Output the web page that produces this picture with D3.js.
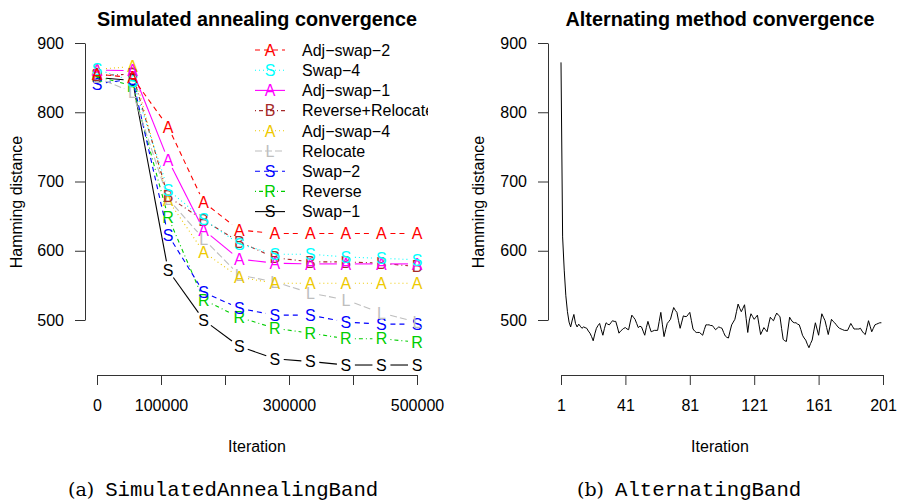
<!DOCTYPE html>
<html>
<head>
<meta charset="utf-8">
<script src="https://cdn.jsdelivr.net/npm/d3@7"></script>
<style>
body { margin: 0; background: #fff; }
svg text { font-family: "Liberation Sans", Arial, Helvetica, sans-serif; }
</style>
</head>
<body>
<script>
// ---- data ----
const iterations = [0, 55556, 111111, 166667, 222222, 277778, 333333, 388889, 444444, 500000];
const methods = ["Adj\u2212swap\u22122", "Swap\u22124", "Adj\u2212swap\u22121", "Reverse+Relocate", "Adj\u2212swap\u22124",
                 "Relocate", "Swap\u22122", "Reverse", "Swap\u22121"];
const symbols = ["A", "S", "A", "B", "A", "L", "S", "R", "S"];
const adjSwap2   = [855, 850, 779, 670, 630, 625, 625, 625, 625, 625];
const swap4      = [862, 845, 688, 645, 610, 595, 595, 591, 589, 587];
const adjSwap1   = [861, 860, 731, 630, 588, 582, 581, 581, 581, 581];
const revReloc   = [853, 855, 678, 644, 613, 590, 584, 584, 582, 577];
const adjSwap4   = [862, 866, 673, 598, 562, 553, 553, 553, 553, 553];
const relocate   = [850, 829, 675, 617, 565, 555, 539, 529, 510, 497];
const swap2      = [841, 848, 623, 540, 517, 507, 507, 497, 494, 494];
const reverse    = [852, 838, 649, 529, 504, 488, 481, 473, 473, 468];
const swap1      = [850, 846, 572, 500, 462, 444, 440, 435, 435, 435];
const saSeries = [adjSwap2, swap4, adjSwap1, revReloc, adjSwap4, relocate, swap2, reverse, swap1];

const distTicks = [500, 600, 700, 800, 900];
const iterTicks = [0, 100000, 200000, 300000, 400000, 500000];
const iterLabels = [0, 100000, 300000, 500000];   // R drops the overlapping ones
const altTicks = [1, 41, 81, 121, 161, 201];

const altDistance = [
  872, 620, 572, 535, 512, 497, 490, 500, 508, 495,
  490, 494, 491, 488, 490, 489, 488, 484, 481, 476,
  470, 480, 488, 492, 495, 486, 478, 488, 496, 494,
  493, 496, 499, 498, 498, 490, 481, 484, 486, 488,
  489, 487, 486, 497, 507, 504, 501, 495, 489, 491,
  490, 484, 478, 489, 498, 490, 483, 484, 485, 485,
  485, 498, 511, 493, 476, 486, 495, 498, 501, 510,
  518, 514, 511, 499, 488, 497, 506, 505, 505, 508,
  511, 499, 487, 484, 482, 482, 482, 480, 478, 486,
  493, 493, 493, 492, 492, 489, 486, 488, 490, 489,
  488, 482, 477, 475, 474, 484, 493, 497, 501, 512,
  523, 517, 512, 517, 522, 502, 482, 500, 509, 505,
  501, 504, 507, 493, 479, 484, 489, 486, 483, 494,
  504, 501, 499, 505, 510, 507, 505, 488, 472, 470,
  469, 487, 504, 500, 497, 496, 496, 494, 493, 486,
  478, 474, 471, 465, 460, 466, 471, 484, 496, 487,
  478, 494, 509, 504, 499, 489, 479, 490, 501, 498,
  496, 493, 490, 488, 487, 486, 485, 485, 485, 490,
  495, 491, 487, 487, 487, 487, 488, 484, 481, 479,
  489, 499, 491, 483, 488, 493, 494, 495, 496, 496
];

// ---- styles ----
const colors = ["#ff0000", "#00ffff", "#ff00ff", "#a52a2a", "#eec900", "#bebebe", "#0000ff", "#00cd00", "#000000"];
const dashes = ["5,4", "1,3", null, "1,3,4,3", "1,3", "7,3", "5,4", "1,3,4,3", null];

const W = 897, H = 501;
const fs = 16;

const svg = d3.select("body").append("svg")
  .attr("width", W)
  .attr("height", H);

function styleAxis(g) {
  g.attr("font-size", fs).attr("font-family", "Liberation Sans, Arial, sans-serif");
  g.selectAll("path, line").attr("stroke", "#333");
  g.selectAll("text").attr("fill", "#000");
}

// lines for R's type="b": leave a gap around each symbol
function gapSegments(pts, gap) {
  const segs = [];
  for (let i = 0; i < pts.length - 1; i++) {
    const [x0, y0] = pts[i], [x1, y1] = pts[i + 1];
    const dx = x1 - x0, dy = y1 - y0, len = Math.hypot(dx, dy);
    if (len <= 2 * gap) continue;
    const ux = dx / len, uy = dy / len;
    segs.push([[x0 + ux * gap, y0 + uy * gap], [x1 - ux * gap, y1 - uy * gap]]);
  }
  return segs;
}

// =============== left panel ===============
const xL = d3.scaleLinear().domain([0, 500000]).range([97, 417]);
const yL = d3.scaleLinear().domain([500, 900]).range([320, 43]);

svg.append("defs").append("clipPath").attr("id", "clipL")
  .append("rect").attr("x", 84).attr("y", 30).attr("width", 344).attr("height", 345);

svg.append("g")
  .attr("transform", "translate(85,0)")
  .call(d3.axisLeft(yL).tickValues(distTicks).tickSize(10).tickSizeOuter(0).tickPadding(11).tickFormat(d3.format("d")))
  .call(styleAxis);

svg.append("g")
  .attr("transform", "translate(0,375)")
  .call(d3.axisBottom(xL).tickValues(iterTicks).tickSize(10).tickSizeOuter(0).tickPadding(15)
    .tickFormat(d => iterLabels.includes(d) ? d3.format("d")(d) : ""))
  .call(styleAxis);

const lineGen = d3.line();
const plotL = svg.append("g").attr("clip-path", "url(#clipL)");

// draw from bottom of legend up, so the top entries sit on top
for (let s = saSeries.length - 1; s >= 0; s--) {
  const pts = saSeries[s].map((v, i) => [xL(iterations[i]), yL(v)]);
  const g = plotL.append("g");
  g.selectAll("path")
    .data(gapSegments(pts, 9))
    .enter().append("path")
    .attr("d", lineGen)
    .attr("fill", "none")
    .attr("stroke", colors[s])
    .attr("stroke-width", 1.1)
    .attr("stroke-dasharray", dashes[s]);
  g.selectAll("text")
    .data(saSeries[s])
    .enter().append("text")
    .attr("x", (d, i) => xL(iterations[i]))
    .attr("y", d => yL(d))
    .attr("dy", "0.36em")
    .attr("text-anchor", "middle")
    .attr("font-size", fs)
    .attr("fill", colors[s])
    .text(symbols[s]);
}

// legend (no box), clipped at the plot region like in R
const legend = svg.append("g").attr("clip-path", "url(#clipL)")
  .selectAll("g")
  .data(methods)
  .enter().append("g")
  .attr("transform", (d, i) => "translate(0," + (50 + i * 20.2) + ")");
legend.append("line")
  .attr("x1", 255).attr("x2", 285)
  .attr("stroke", (d, i) => colors[i])
  .attr("stroke-width", 1.1)
  .attr("stroke-dasharray", (d, i) => dashes[i]);
legend.append("text")
  .attr("x", 270).attr("dy", "0.36em")
  .attr("text-anchor", "middle")
  .attr("font-size", fs)
  .attr("fill", (d, i) => colors[i])
  .text((d, i) => symbols[i]);
legend.append("text")
  .attr("x", 302).attr("dy", "0.36em")
  .attr("font-size", fs)
  .attr("fill", "#000")
  .text(d => d);

svg.append("text")
  .attr("x", 257).attr("y", 26)
  .attr("text-anchor", "middle")
  .attr("font-size", 19.8).attr("font-weight", "bold")
  .text("Simulated annealing convergence");

svg.append("text")
  .attr("x", 257).attr("y", 452)
  .attr("text-anchor", "middle")
  .attr("font-size", fs)
  .text("Iteration");

svg.append("text")
  .attr("transform", "translate(22,202) rotate(-90)")
  .attr("text-anchor", "middle")
  .attr("font-size", fs)
  .text("Hamming distance");

// =============== right panel ===============
const xR = d3.scaleLinear().domain([1, 201]).range([561, 883]);
const yR = d3.scaleLinear().domain([500, 900]).range([320, 43]);

svg.append("g")
  .attr("transform", "translate(548,0)")
  .call(d3.axisLeft(yR).tickValues(distTicks).tickSize(10).tickSizeOuter(0).tickPadding(11).tickFormat(d3.format("d")))
  .call(styleAxis);

svg.append("g")
  .attr("transform", "translate(0,375)")
  .call(d3.axisBottom(xR).tickValues(altTicks).tickSize(10).tickSizeOuter(0).tickPadding(15).tickFormat(d3.format("d")))
  .call(styleAxis);

svg.append("path")
  .datum(altDistance)
  .attr("d", d3.line().x((d, i) => xR(i + 1)).y(d => yR(d)))
  .attr("fill", "none")
  .attr("stroke", "#000")
  .attr("stroke-width", 1);

svg.append("text")
  .attr("x", 720).attr("y", 26)
  .attr("text-anchor", "middle")
  .attr("font-size", 19.8).attr("font-weight", "bold")
  .text("Alternating method convergence");

svg.append("text")
  .attr("x", 720).attr("y", 452)
  .attr("text-anchor", "middle")
  .attr("font-size", fs)
  .text("Iteration");

svg.append("text")
  .attr("transform", "translate(484,202) rotate(-90)")
  .attr("text-anchor", "middle")
  .attr("font-size", fs)
  .text("Hamming distance");

// =============== sub-captions ===============
const captions = [
  { x: 68, tag: "(a)", name: "SimulatedAnnealingBand" },
  { x: 577, tag: "(b)", name: "AlternatingBand" }
];
captions.forEach(c => {
  const t = svg.append("text").attr("x", c.x).attr("y", 496).attr("fill", "#000");
  t.append("tspan").attr("font-family", "DejaVu Serif, Liberation Serif, serif").attr("font-size", 19).text(c.tag);
  t.append("tspan").attr("font-family", "Liberation Mono, DejaVu Sans Mono, monospace").attr("font-size", 20.7)
    .attr("dx", 11).text(c.name);
});
</script>
</body>
</html>
